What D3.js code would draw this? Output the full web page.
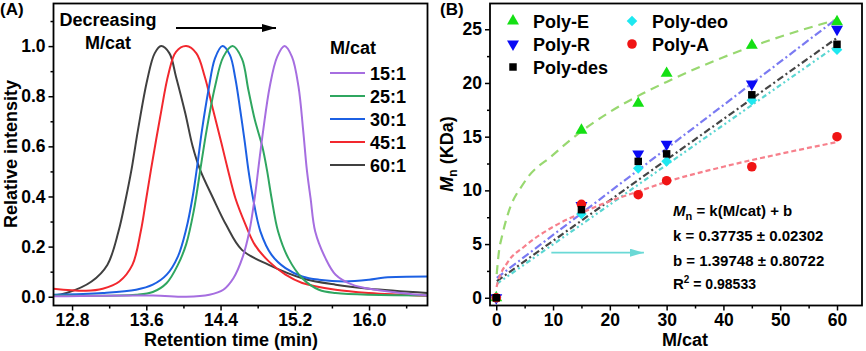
<!DOCTYPE html>
<html lang="en">
<head>
<meta charset="UTF-8">
<title>GPC traces and Mn vs M/cat</title>
<style>
  body { margin: 0; background: #fff; }
  svg text { font-family: "Liberation Sans", Arial, sans-serif; font-weight: bold; fill: #000; }
  .tick text { font-size: 17.5px; }
  .tick line { stroke: #000; stroke-width: 1.5; }
</style>
</head>
<body>
<div class="chart"></div>
<script src="https://d3js.org/d3.v7.min.js"></script>
<script>
// ---------- panel A: GPC traces [retention time (min), relative intensity] ----------
const ratioLabels = ['15:1', '25:1', '30:1', '45:1', '60:1'];

const trace15 = [[12.6,0.002],[13.67,0.005],[14.03,0.0],[14.28,0.008],[14.43,0.028],[14.54,0.075],
  [14.64,0.16],[14.71,0.26],[14.77,0.40],[14.81,0.52],[14.86,0.665],[14.93,0.838],[15.01,0.957],
  [15.09,1.0],[15.17,0.957],[15.24,0.838],[15.29,0.665],[15.33,0.506],[15.37,0.393],[15.42,0.26],
  [15.53,0.154],[15.64,0.088],[15.82,0.048],[16.0,0.032],[16.35,0.015],[16.63,0.005]];
const trace25 = [[12.6,0.005],[13.49,0.008],[13.67,0.019],[13.82,0.055],[13.94,0.127],[14.03,0.21],
  [14.11,0.34],[14.19,0.526],[14.25,0.665],[14.34,0.838],[14.43,0.957],[14.53,1.0],[14.63,0.95],
  [14.70,0.825],[14.77,0.705],[14.85,0.599],[14.90,0.506],[14.95,0.393],[15.02,0.26],[15.13,0.154],
  [15.28,0.074],[15.46,0.028],[15.64,0.015],[16.63,0.005]];
const trace30 = [[12.6,0.008],[13.13,0.015],[13.49,0.028],[13.67,0.048],[13.82,0.088],[13.94,0.160],
  [14.03,0.27],[14.10,0.40],[14.15,0.526],[14.20,0.665],[14.27,0.825],[14.34,0.951],[14.42,1.0],
  [14.50,0.965],[14.56,0.87],[14.61,0.75],[14.66,0.62],[14.70,0.506],[14.75,0.393],[14.83,0.26],
  [14.95,0.167],[15.10,0.114],[15.28,0.081],[15.46,0.068],[15.74,0.061],[16.0,0.068],[16.17,0.077],[16.63,0.081]];
const trace45 = [[12.6,0.032],[12.95,0.024],[13.13,0.032],[13.31,0.061],[13.45,0.127],[13.54,0.26],
  [13.60,0.393],[13.65,0.506],[13.75,0.718],[13.84,0.891],[13.92,0.977],[14.03,1.0],[14.14,0.971],
  [14.23,0.878],[14.32,0.745],[14.41,0.612],[14.48,0.506],[14.56,0.393],[14.67,0.287],[14.77,0.207],
  [14.92,0.141],[15.10,0.088],[15.28,0.055],[15.64,0.028],[16.0,0.015],[16.63,0.004]];
const trace60 = [[12.6,0.005],[12.74,0.015],[13.01,0.061],[13.18,0.127],[13.30,0.26],[13.38,0.393],
  [13.44,0.506],[13.51,0.665],[13.61,0.865],[13.69,0.971],[13.76,1.0],[13.85,0.971],[13.92,0.878],
  [14.02,0.732],[14.10,0.599],[14.18,0.506],[14.32,0.393],[14.46,0.287],[14.63,0.187],[14.92,0.127],
  [15.28,0.074],[15.64,0.048],[16.0,0.032],[16.63,0.015]];

const xTicksA = [12.8, 13.6, 14.4, 15.2, 16.0];
const yTicksA = [0, 0.2, 0.4, 0.6, 0.8, 1.0];

// ---------- panel B: Mn (KDa) vs M/cat ----------
const seriesNames = ['Poly-E', 'Poly-R', 'Poly-des', 'Poly-deo', 'Poly-A'];
const mcat = [0, 15, 25, 30, 45, 60];
const polyE = [0, 15.6, 18.1, 20.9, 23.5, 25.7];
const polyR = [0, 8.6, 13.4, 14.3, 19.9, 25.0];
const polyDes = [0, 8.2, 12.7, 13.4, 18.9, 23.6];
const polyDeo = [0, 7.8, 12.05, 12.7, 18.4, 23.1];
const polyA = [0, 8.7, 9.6, 10.9, 12.2, 15.0];

// fitted curves
const fitEx = [0.08, 0.5, 1, 2, 5, 10, 15, 20, 25, 30, 40, 50, 60];
const fitEy = [2.2, 4.4, 5.7, 7.7, 10.8, 13.3, 15.5, 17.3, 18.8, 20.1, 22.4, 24.3, 25.9];
const fitAx = [0.05, 0.3, 2, 5, 10, 15, 20, 25, 30, 40, 50, 60];
const fitAy = [1.0, 1.5, 3.3, 4.8, 6.6, 7.9, 9.0, 9.9, 10.8, 12.2, 13.4, 14.5];
const fitLinX = [0.1, 60];
const fitRy = [1.85, 26.0];
const fitDesy = [1.55, 24.2];
const fitDeoy = [1.3, 23.5];

const xTicksB = [0, 10, 20, 30, 40, 50, 60];
const yTicksB = [0, 5, 10, 15, 20, 25];

const W = 866, H = 351;
const svg = d3.select('.chart').append('svg').attr('width', W).attr('height', H);

// arrow heads
const defs = svg.append('defs');
const marker = (id, color, w, h) => defs.append('marker')
  .attr('id', id).attr('viewBox', `0 0 ${w} ${h}`)
  .attr('refX', w).attr('refY', h / 2)
  .attr('markerWidth', w).attr('markerHeight', h)
  .attr('markerUnits', 'userSpaceOnUse').attr('orient', 'auto')
  .append('path').attr('d', `M0,0L${w},${h / 2}L0,${h}Z`).attr('fill', color);
marker('arrBlack', '#000', 14, 8);
marker('arrCyan', '#6ad9d6', 14, 8);

const drawAxes = (xS, yS, xT, yT, xMinor, yMinor, fmtX, fmtY) => {
  const [y0] = yS.range(), [x0] = xS.range();
  svg.append('g').attr('transform', `translate(0,${y0})`)
    .call(d3.axisBottom(xS).tickValues(xMinor).tickSize(3).tickFormat(''))
    .call(g => g.select('.domain').remove());
  svg.append('g').attr('transform', `translate(${x0},0)`)
    .call(d3.axisLeft(yS).tickValues(yMinor).tickSize(3).tickFormat(''))
    .call(g => g.select('.domain').remove());
  svg.append('g').attr('transform', `translate(0,${y0})`)
    .call(d3.axisBottom(xS).tickValues(xT).tickSize(5).tickPadding(3).tickFormat(fmtX))
    .call(g => g.select('.domain').remove());
  svg.append('g').attr('transform', `translate(${x0},0)`)
    .call(d3.axisLeft(yS).tickValues(yT).tickSize(5).tickPadding(3).tickFormat(fmtY))
    .call(g => g.select('.domain').remove());
};

const frame = (xS, yS) => {
  const [xa, xb] = xS.range(), [ya, yb] = yS.range();
  svg.append('rect').attr('x', xa).attr('y', yb).attr('width', xb - xa).attr('height', ya - yb)
    .attr('fill', 'none').attr('stroke', '#000').attr('stroke-width', 1.8);
};

// ================= panel A =================
const xA = d3.scaleLinear().domain([12.6, 16.63]).range([53.5, 427.5]);
const yA = d3.scaleLinear().domain([-0.035, 1.17]).range([305.5, 3.5]);

const traces = [trace15, trace25, trace30, trace45, trace60];
const traceColor = ['#a66ee0', '#2fa660', '#1c60e3', '#f2282e', '#404040'];

defs.append('clipPath').attr('id', 'clipA')
  .append('rect').attr('x', 53.5).attr('y', 3.5).attr('width', 374).attr('height', 302);

const lineA = d3.line().x(d => xA(d[0])).y(d => yA(d[1])).curve(d3.curveCatmullRom.alpha(0.5));
svg.append('g').attr('clip-path', 'url(#clipA)')
  .selectAll('path').data([4, 3, 2, 1, 0]).join('path')
  .attr('d', i => lineA(traces[i]))
  .attr('fill', 'none').attr('stroke', i => traceColor[i]).attr('stroke-width', 2);

drawAxes(xA, yA, xTicksA, yTicksA, d3.range(13.2, 16.6, 0.8), d3.range(0.1, 1.15, 0.2),
  d3.format('.1f'), d3.format('.1f'));
frame(xA, yA);

// legend A
svg.append('text').attr('x', 330).attr('y', 54).style('font-size', '18px').text('M/cat');
const legA = svg.append('g').selectAll('g').data(ratioLabels).join('g')
  .attr('transform', (d, i) => `translate(330,${73 + i * 23})`);
legA.append('line').attr('x1', 0).attr('x2', 35)
  .attr('stroke', (d, i) => traceColor[i]).attr('stroke-width', 2);
legA.append('text').attr('x', 40).attr('y', 6.5).style('font-size', '18px').text(d => d);

// "Decreasing M/cat" note with arrow
svg.append('text').attr('x', 108).attr('y', 26).attr('text-anchor', 'middle').style('font-size', '18px').text('Decreasing');
svg.append('text').attr('x', 108).attr('y', 49).attr('text-anchor', 'middle').style('font-size', '18px').text('M/cat');
svg.append('line').attr('x1', 176).attr('x2', 276).attr('y1', 28).attr('y2', 28)
  .attr('stroke', '#000').attr('stroke-width', 1.8).attr('marker-end', 'url(#arrBlack)');

svg.append('text').attr('x', 0).attr('y', 15).style('font-size', '17px').text('(A)');
svg.append('text').attr('x', 231).attr('y', 346).attr('text-anchor', 'middle').style('font-size', '18px')
  .text('Retention time (min)');
svg.append('text').attr('transform', 'translate(17,154) rotate(-90)').attr('text-anchor', 'middle')
  .style('font-size', '18px').text('Relative intensity');

// ================= panel B =================
const xB = d3.scaleLinear().domain([-1.1, 64.4]).range([490, 862]);
const yB = d3.scaleLinear().domain([-0.72, 27.4]).range([305.5, 3.5]);

const seriesY = [polyE, polyR, polyDes, polyDeo, polyA];
const markColor = ['#14e014', '#0a0af5', '#000000', '#1ee8f0', '#f01414'];
const fitColor = ['#98d870', '#7a7af2', '#454545', '#5ad6d2', '#f7808c'];
const fitDash = ['9,6', '8,3,2,3', '7,3,2,3', '5,3,2,3,2,3', '5,3'];
const fits = [
  [fitEx, fitEy], [fitLinX, fitRy], [fitLinX, fitDesy], [fitLinX, fitDeoy], [fitAx, fitAy]
];

const lineB = d3.line().x(d => xB(d[0])).y(d => yB(d[1])).curve(d3.curveMonotoneX);
svg.append('g').selectAll('path').data(fits).join('path')
  .attr('d', f => lineB(f[0].map((x, j) => [x, f[1][j]])))
  .attr('fill', 'none')
  .attr('stroke', (f, i) => fitColor[i]).attr('stroke-width', 2.2)
  .attr('stroke-dasharray', (f, i) => fitDash[i]);

// marker shapes: up triangle, down triangle, square, diamond, circle
const shape = [
  { type: d3.symbolTriangle, size: 62, rot: 0 },
  { type: d3.symbolTriangle, size: 62, rot: 180 },
  { type: d3.symbolSquare, size: 56, rot: 0 },
  { type: d3.symbolSquare, size: 56, rot: 45 },
  { type: d3.symbolCircle, size: 72, rot: 0 }
];
const symPath = i => d3.symbol().type(shape[i].type).size(shape[i].size)();

// draw order so the black square ends on top at the origin
[0, 1, 3, 4, 2].forEach(i => {
  svg.append('g').selectAll('path').data(mcat).join('path')
    .attr('d', symPath(i))
    .attr('transform', (x, j) => `translate(${xB(x)},${yB(seriesY[i][j])}) rotate(${shape[i].rot})`)
    .attr('fill', markColor[i]);
});

drawAxes(xB, yB, xTicksB, yTicksB, d3.range(5, 64, 10), d3.range(2.5, 27, 5), d3.format(''), d3.format(''));
frame(xB, yB);

// legend B
const legPos = [[513, 21], [513, 44], [513, 67], [632, 21], [632, 44]];
const legB = svg.append('g').selectAll('g').data(seriesNames).join('g')
  .attr('transform', (d, i) => `translate(${legPos[i][0]},${legPos[i][1]})`);
legB.append('path').attr('d', (d, i) => symPath(i))
  .attr('transform', (d, i) => `rotate(${shape[i].rot})`)
  .attr('fill', (d, i) => markColor[i]);
legB.append('text').attr('x', 20).attr('y', 6.5).style('font-size', '18px').text(d => d);

// fit annotation
const ann = svg.append('g').style('font-size', '15px');
const t1 = ann.append('text').attr('x', 673).attr('y', 216);
t1.append('tspan').style('font-style', 'italic').text('M');
t1.append('tspan').attr('dy', 4).style('font-size', '11px').text('n');
t1.append('tspan').attr('dy', -4).text(' = k(M/cat) + b');
ann.append('text').attr('x', 673).attr('y', 241).text('k = 0.37735 ± 0.02302');
ann.append('text').attr('x', 673).attr('y', 266).text('b = 1.39748 ± 0.80722');
const t4 = ann.append('text').attr('x', 673).attr('y', 289);
t4.append('tspan').text('R');
t4.append('tspan').attr('dy', -6).style('font-size', '10px').text('2');
t4.append('tspan').attr('dy', 6).style('font-size', '14px').text(' = 0.98533');

svg.append('line').attr('x1', xB(9.7)).attr('x2', xB(26)).attr('y1', yB(4.2)).attr('y2', yB(4.2))
  .attr('stroke', '#6ad9d6').attr('stroke-width', 1.8).attr('marker-end', 'url(#arrCyan)');

svg.append('text').attr('x', 440).attr('y', 15).style('font-size', '17px').text('(B)');
svg.append('text').attr('x', 685).attr('y', 346).attr('text-anchor', 'middle').style('font-size', '18px').text('M/cat');
const yt = svg.append('text').attr('transform', 'translate(453,154) rotate(-90)').attr('text-anchor', 'middle')
  .style('font-size', '18px');
yt.append('tspan').style('font-style', 'italic').text('M');
yt.append('tspan').attr('dy', 4).style('font-size', '12px').text('n');
yt.append('tspan').attr('dy', -4).text(' (KDa)');
</script>
</body>
</html>
